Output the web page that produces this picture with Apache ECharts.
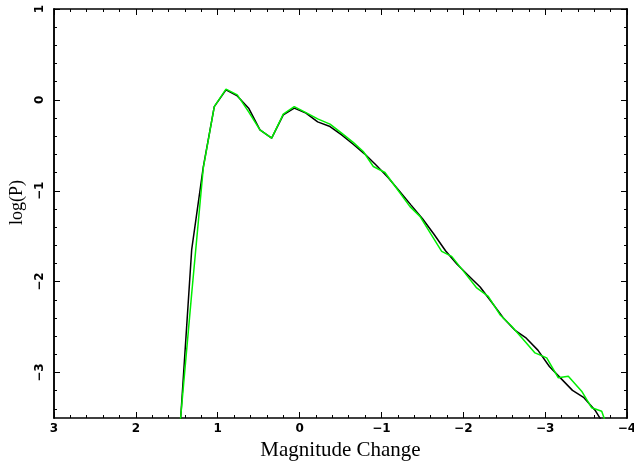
<!DOCTYPE html>
<html>
<head>
<meta charset="utf-8">
<script src="https://cdn.jsdelivr.net/npm/echarts@6/dist/echarts.min.js"></script>
<style>
  html, body { margin: 0; padding: 0; background: #fff; }
  #chart { width: 634px; height: 461px; }
</style>
</head>
<body>
<div id="chart"></div>
<script>
  // black curve
  var blackMag = [1.456, 1.318, 1.176, 1.042, 0.899, 0.761, 0.622, 0.484, 0.341, 0.199, 0.065,
    -0.078, -0.221, -0.372, -0.514, -0.655, -0.797, -0.937, -1.078, -1.219, -1.360, -1.502,
    -1.642, -1.783, -1.924, -2.065, -2.206, -2.347, -2.487, -2.629, -2.770, -2.911, -3.052,
    -3.192, -3.334, -3.474, -3.615, -3.755];
  var blackLogP = [-3.55, -1.648, -0.736, -0.074, 0.110, 0.044, -0.091, -0.330, -0.421, -0.165, -0.091,
    -0.146, -0.242, -0.293, -0.385, -0.488, -0.596, -0.719, -0.851, -1.003, -1.155, -1.308,
    -1.478, -1.660, -1.809, -1.934, -2.059, -2.227, -2.396, -2.533, -2.622, -2.753, -2.933,
    -3.064, -3.196, -3.276, -3.421, -3.626];

  // green curve
  var greenMag = [1.456, 1.318, 1.176, 1.042, 0.899, 0.761, 0.622, 0.484, 0.341, 0.199, 0.065,
    -0.078, -0.221, -0.372, -0.514, -0.655, -0.778, -0.901, -1.043, -1.196, -1.349, -1.471,
    -1.605, -1.736, -1.858, -2.009, -2.164, -2.305, -2.448, -2.591, -2.733, -2.876, -3.019,
    -3.161, -3.283, -3.446, -3.569, -3.691, -3.743];
  var greenLogP = [-3.527, -2.132, -0.747, -0.074, 0.118, 0.055, -0.132, -0.330, -0.421, -0.157, -0.074,
    -0.140, -0.209, -0.267, -0.366, -0.467, -0.568, -0.733, -0.799, -0.986, -1.174, -1.282,
    -1.477, -1.667, -1.722, -1.892, -2.069, -2.162, -2.363, -2.491, -2.636, -2.784, -2.838,
    -3.058, -3.041, -3.205, -3.388, -3.425, -3.560];

  // y ticks
  var yMajorTicks = [-3, -2, -1, 0, 1];
  var yMinorTicks = [];
  for (var v = -34; v <= 10; v += 2) {
    if (v % 10 !== 0) yMinorTicks.push(v / 10);
  }

  function minus(val) {
    return String(val).replace('-', '\u2212');
  }

  function pairs(xs, ys) {
    var out = [];
    for (var i = 0; i < xs.length; i++) out.push([xs[i], ys[i]]);
    return out;
  }

  var lineCol = '#000';
  var tickFont = {fontFamily: 'DejaVu Sans', fontSize: 12, fontWeight: 'bold', color: '#000'};

  function xAxisDef(pos, labels) {
    return {
      type: 'value', position: pos, min: -4, max: 3, interval: 1, inverse: true,
      axisLine: {show: true, onZero: false, lineStyle: {color: lineCol, width: 1.5}},
      axisTick: {show: true, inside: true, length: 6, lineStyle: {color: lineCol, width: 1}},
      minorTick: {show: true, splitNumber: 5, length: 3, lineStyle: {color: lineCol, width: 1}},
      axisLabel: Object.assign({show: labels, margin: 5, formatter: minus}, tickFont),
      splitLine: {show: false},
      minorSplitLine: {show: false}
    };
  }

  function yAxisDef(pos, ticks, len, labels) {
    return {
      type: 'value', position: pos, min: -3.5, max: 1,
      axisLine: {show: true, onZero: false, lineStyle: {color: lineCol, width: 1.5}},
      axisTick: {show: true, inside: true, length: len, customValues: ticks, lineStyle: {color: lineCol, width: 1}},
      axisLabel: Object.assign({show: labels, rotate: 90, margin: 8, customValues: ticks, formatter: minus}, tickFont),
      splitLine: {show: false}
    };
  }

  var xAxes = [xAxisDef('bottom', true), xAxisDef('top', false)];
  xAxes[0].name = 'Magnitude Change';
  xAxes[0].nameLocation = 'middle';
  xAxes[0].nameGap = 22;
  xAxes[0].nameTextStyle = {fontFamily: 'Liberation Serif', fontSize: 21, color: '#000', verticalAlign: 'top'};

  var yAxes = [
    yAxisDef('left', yMajorTicks, 6, true),
    yAxisDef('right', yMajorTicks, 6, false),
    yAxisDef('left', yMinorTicks, 3, false),
    yAxisDef('right', yMinorTicks, 3, false)
  ];
  yAxes[0].name = 'log(P)';
  yAxes[0].nameLocation = 'middle';
  yAxes[0].nameGap = 26;
  yAxes[0].nameTextStyle = {fontFamily: 'Liberation Serif', fontSize: 18, color: '#000', padding: [0, 0, 0, 22]};

  var chart = echarts.init(document.getElementById('chart'));
  chart.setOption({
    animation: false,
    backgroundColor: '#fff',
    grid: {left: 54, right: 7, top: 9, bottom: 43, outerBoundsMode: 'none'},
    xAxis: xAxes,
    yAxis: yAxes,
    series: [
      {
        name: 'black', type: 'line', xAxisIndex: 0, yAxisIndex: 0,
        data: pairs(blackMag, blackLogP), showSymbol: false, clip: true,
        lineStyle: {color: '#000', width: 1.5}
      },
      {
        name: 'green', type: 'line', xAxisIndex: 0, yAxisIndex: 0,
        data: pairs(greenMag, greenLogP), showSymbol: false, clip: true,
        lineStyle: {color: '#00ee00', width: 1.5}
      }
    ]
  });
</script>
</body>
</html>
